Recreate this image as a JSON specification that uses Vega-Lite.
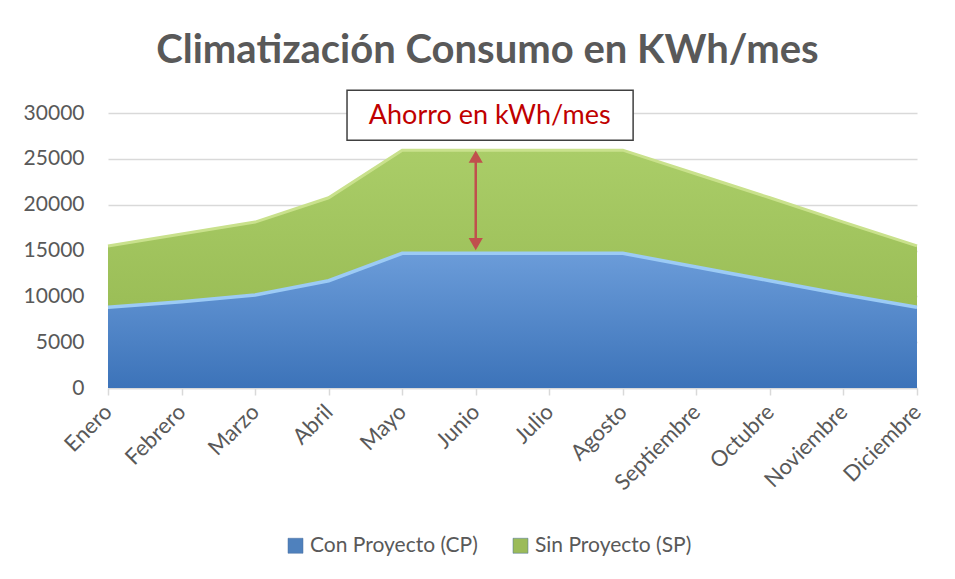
{
  "$schema": "https://vega.github.io/schema/vega-lite/v6.json",
  "width": 809,
  "height": 275,
  "autosize": {"type": "none"},
  "padding": {"left": 108, "top": 113, "right": 38, "bottom": 191},
  "background": "white",
  "title": {
    "text": "Climatización Consumo  en KWh/mes",
    "font": "Lato",
    "fontSize": 40,
    "fontWeight": "bold",
    "color": "#595959",
    "anchor": "middle",
    "baseline": "alphabetic",
    "offset": 43,
    "dx": -25,
    "dy": 56
  },
  "config": {
    "font": "Lato",
    "view": {"stroke": null}
  },
  "datasets": {
    "consumo": [
      {"mes": "Enero", "i": 0, "serie": "Con Proyecto (CP)", "kwh": 8800},
      {"mes": "Febrero", "i": 1, "serie": "Con Proyecto (CP)", "kwh": 9400},
      {"mes": "Marzo", "i": 2, "serie": "Con Proyecto (CP)", "kwh": 10150},
      {"mes": "Abril", "i": 3, "serie": "Con Proyecto (CP)", "kwh": 11700},
      {"mes": "Mayo", "i": 4, "serie": "Con Proyecto (CP)", "kwh": 14700},
      {"mes": "Junio", "i": 5, "serie": "Con Proyecto (CP)", "kwh": 14700},
      {"mes": "Julio", "i": 6, "serie": "Con Proyecto (CP)", "kwh": 14700},
      {"mes": "Agosto", "i": 7, "serie": "Con Proyecto (CP)", "kwh": 14700},
      {"mes": "Septiembre", "i": 8, "serie": "Con Proyecto (CP)", "kwh": 13200},
      {"mes": "Octubre", "i": 9, "serie": "Con Proyecto (CP)", "kwh": 11700},
      {"mes": "Noviembre", "i": 10, "serie": "Con Proyecto (CP)", "kwh": 10200},
      {"mes": "Diciembre", "i": 11, "serie": "Con Proyecto (CP)", "kwh": 8800},
      {"mes": "Enero", "i": 0, "serie": "Sin Proyecto (SP)", "kwh": 15500},
      {"mes": "Febrero", "i": 1, "serie": "Sin Proyecto (SP)", "kwh": 16800},
      {"mes": "Marzo", "i": 2, "serie": "Sin Proyecto (SP)", "kwh": 18100},
      {"mes": "Abril", "i": 3, "serie": "Sin Proyecto (SP)", "kwh": 20750},
      {"mes": "Mayo", "i": 4, "serie": "Sin Proyecto (SP)", "kwh": 25950},
      {"mes": "Junio", "i": 5, "serie": "Sin Proyecto (SP)", "kwh": 25950},
      {"mes": "Julio", "i": 6, "serie": "Sin Proyecto (SP)", "kwh": 25950},
      {"mes": "Agosto", "i": 7, "serie": "Sin Proyecto (SP)", "kwh": 25950},
      {"mes": "Septiembre", "i": 8, "serie": "Sin Proyecto (SP)", "kwh": 23350},
      {"mes": "Octubre", "i": 9, "serie": "Sin Proyecto (SP)", "kwh": 20750},
      {"mes": "Noviembre", "i": 10, "serie": "Sin Proyecto (SP)", "kwh": 18100},
      {"mes": "Diciembre", "i": 11, "serie": "Sin Proyecto (SP)", "kwh": 15500}
    ]
  },
  "layer": [
    {
      "data": {"name": "consumo"},
      "transform": [{"filter": "datum.serie === 'Sin Proyecto (SP)'"}],
      "mark": {"type": "area", "clip": false, "fill": {"gradient": "linear", "x1": 0, "y1": 0, "x2": 0, "y2": 1, "stops": [{"offset": 0, "color": "#aacd68"}, {"offset": 1, "color": "#93b64e"}]}},
      "encoding": {
        "x": {
          "field": "i", "type": "quantitative",
          "scale": {"domain": [0, 11], "nice": false, "zero": false},
          "axis": {
            "title": null,
            "values": [0, 1, 2, 3, 4, 5, 6, 7, 8, 9, 10, 11],
            "labelExpr": "['Enero','Febrero','Marzo','Abril','Mayo','Junio','Julio','Agosto','Septiembre','Octubre','Noviembre','Diciembre'][datum.value]",
            "labelAngle": -45,
            "labelAlign": "right",
            "labelBaseline": "middle",
            "labelFontSize": 22,
            "labelColor": "#595959",
            "labelPadding": 13,
            "labelFont": "Lato",
            "labelLimit": 300,
            "domainColor": "#d9d9d9",
            "domainWidth": 1.5,
            "tickColor": "#d9d9d9",
            "tickSize": 7,
            "tickWidth": 1.5,
            "grid": false,
            "labelOverlap": false
          }
        },
        "y": {
          "field": "kwh", "type": "quantitative",
          "scale": {"domain": [0, 30000], "nice": false},
          "axis": {
            "title": null,
            "values": [0, 5000, 10000, 15000, 20000, 25000, 30000],
            "format": "d",
            "labelFontSize": 21,
            "labelColor": "#595959",
            "labelFont": "Lato",
            "labelPadding": 24,
            "domain": false,
            "ticks": false,
            "gridColor": "#d9d9d9",
            "gridWidth": 1.5
          }
        }
      }
    },
    {
      "data": {"name": "consumo"},
      "transform": [{"filter": "datum.serie === 'Sin Proyecto (SP)'"}],
      "mark": {"type": "line", "stroke": "#c9e18c", "strokeWidth": 3, "clip": false},
      "encoding": {
        "x": {"field": "i", "type": "quantitative"},
        "y": {"field": "kwh", "type": "quantitative"}
      }
    },
    {
      "data": {"name": "consumo"},
      "transform": [{"filter": "datum.serie === 'Con Proyecto (CP)'"}],
      "mark": {"type": "area", "clip": false, "fill": {"gradient": "linear", "x1": 0, "y1": 0, "x2": 0, "y2": 1, "stops": [{"offset": 0, "color": "#6b9cd9"}, {"offset": 1, "color": "#3c73b9"}]}},
      "encoding": {
        "x": {"field": "i", "type": "quantitative"},
        "y": {"field": "kwh", "type": "quantitative"}
      }
    },
    {
      "data": {"name": "consumo"},
      "transform": [{"filter": "datum.serie === 'Con Proyecto (CP)'"}],
      "mark": {"type": "line", "stroke": "#9ccbf5", "strokeWidth": 3.5, "clip": false},
      "encoding": {
        "x": {"field": "i", "type": "quantitative"},
        "y": {"field": "kwh", "type": "quantitative"}
      }
    },
    {
      "data": {"name": "consumo"},
      "transform": [{"filter": "false"}],
      "mark": {"type": "point", "shape": "square", "filled": true},
      "encoding": {
        "x": {"field": "i", "type": "quantitative"},
        "y": {"field": "kwh", "type": "quantitative"},
        "color": {
          "field": "serie", "type": "nominal",
          "scale": {
            "domain": ["Con Proyecto (CP)", "Sin Proyecto (SP)"],
            "range": ["#4f81bd", "#9bbb59"]
          },
          "legend": {
            "title": null,
            "orient": "none",
            "legendX": 177,
            "legendY": 422,
            "direction": "horizontal",
            "symbolType": "square",
            "symbolSize": 225,
            "symbolOpacity": 1,
            "symbolStrokeColor": "#4a6f9e",
            "symbolStrokeWidth": 0.5,
            "labelFontSize": 21,
            "labelColor": "#595959",
            "labelFont": "Lato",
            "labelLimit": 400,
            "columnPadding": 32,
            "labelOffset": 4
          }
        }
      }
    },
    {
      "data": {"values": [{"x": 3.25, "x2": 7.14, "y": 32480, "y2": 27020}]},
      "mark": {"type": "rect", "fill": "white", "stroke": "#404040", "strokeWidth": 1.5, "clip": false},
      "encoding": {
        "x": {"field": "x", "type": "quantitative"},
        "x2": {"field": "x2"},
        "y": {"field": "y", "type": "quantitative"},
        "y2": {"field": "y2"}
      }
    },
    {
      "data": {"values": [{"x": 5.19, "y": 29700, "t": "Ahorro en kWh/mes"}]},
      "mark": {"type": "text", "color": "#c00000", "fontSize": 27, "font": "Lato", "align": "center", "baseline": "middle", "clip": false},
      "encoding": {
        "x": {"field": "x", "type": "quantitative"},
        "y": {"field": "y", "type": "quantitative"},
        "text": {"field": "t"}
      }
    },
    {
      "data": {"values": [{"x": 5, "y": 25300, "y2": 15700}]},
      "mark": {"type": "rule", "color": "#c0504d", "strokeWidth": 2.5},
      "encoding": {
        "x": {"field": "x", "type": "quantitative"},
        "y": {"field": "y", "type": "quantitative"},
        "y2": {"field": "y2"}
      }
    },
    {
      "data": {"values": [{"x": 5, "y": 25240, "s": "triangle-up"}, {"x": 5, "y": 15700, "s": "triangle-down"}]},
      "mark": {"type": "point", "filled": true, "color": "#c0504d", "size": 200, "opacity": 1},
      "encoding": {
        "x": {"field": "x", "type": "quantitative"},
        "y": {"field": "y", "type": "quantitative"},
        "shape": {"field": "s", "type": "nominal", "scale": null}
      }
    }
  ]
}
